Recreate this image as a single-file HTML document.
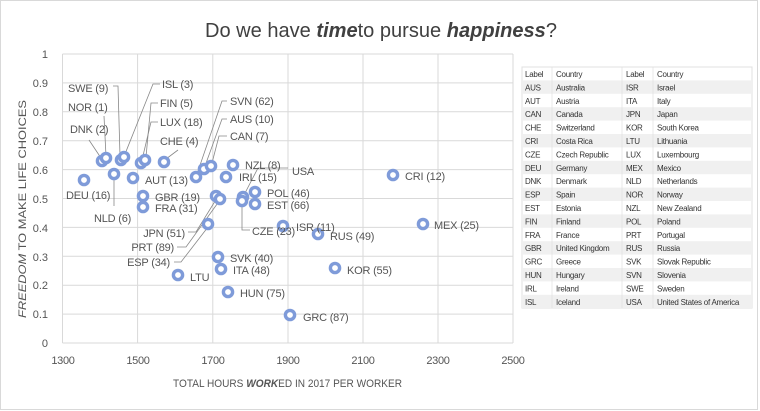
<!DOCTYPE html>
<html><head><meta charset="utf-8"><style>
html,body{margin:0;padding:0;background:#fff;}
svg{display:block;font-family:"Liberation Sans",sans-serif;}
</style></head><body>
<svg width="760" height="411" viewBox="0 0 760 411" xmlns="http://www.w3.org/2000/svg">
<rect x="0.5" y="0.5" width="757" height="409" fill="#fff" stroke="#d9d9d9"/>
<text x="205" y="37" font-size="20" fill="#404040" textLength="352" lengthAdjust="spacingAndGlyphs">Do we have <tspan font-weight="bold" font-style="italic">time</tspan>to pursue <tspan font-weight="bold" font-style="italic">happiness</tspan>?</text>
<g stroke="#d9d9d9" stroke-width="1">
<line x1="62.5" y1="54" x2="513" y2="54"/><line x1="62.5" y1="82.9" x2="513" y2="82.9"/><line x1="62.5" y1="111.8" x2="513" y2="111.8"/><line x1="62.5" y1="140.7" x2="513" y2="140.7"/><line x1="62.5" y1="169.6" x2="513" y2="169.6"/><line x1="62.5" y1="198.5" x2="513" y2="198.5"/><line x1="62.5" y1="227.4" x2="513" y2="227.4"/><line x1="62.5" y1="256.3" x2="513" y2="256.3"/><line x1="62.5" y1="285.2" x2="513" y2="285.2"/><line x1="62.5" y1="314.1" x2="513" y2="314.1"/><line x1="62.5" y1="343" x2="513" y2="343"/>
<line x1="62.5" y1="54" x2="62.5" y2="343"/><line x1="137.6" y1="54" x2="137.6" y2="343"/><line x1="212.8" y1="54" x2="212.8" y2="343"/><line x1="288" y1="54" x2="288" y2="343"/><line x1="363" y1="54" x2="363" y2="343"/><line x1="438" y1="54" x2="438" y2="343"/><line x1="513" y1="54" x2="513" y2="343"/>
</g>
<g font-size="11" fill="#555" text-anchor="end">
<text x="48" y="58">1</text><text x="48" y="87">0.9</text><text x="48" y="116">0.8</text><text x="48" y="145">0.7</text><text x="48" y="174">0.6</text><text x="48" y="203">0.5</text><text x="48" y="232">0.4</text><text x="48" y="261">0.3</text><text x="48" y="289">0.2</text><text x="48" y="318">0.1</text><text x="48" y="347">0</text>
</g>
<g font-size="11" fill="#555" text-anchor="middle" letter-spacing="-0.3">
<text x="63" y="364">1300</text><text x="138" y="364">1500</text><text x="213" y="364">1700</text><text x="288" y="364">1900</text><text x="363" y="364">2100</text><text x="438" y="364">2300</text><text x="513" y="364">2500</text>
</g>
<text x="173" y="387" font-size="11" fill="#555" textLength="229" lengthAdjust="spacingAndGlyphs">TOTAL HOURS <tspan font-weight="bold" font-style="italic">WORK</tspan>ED IN 2017 PER WORKER</text>
<text transform="translate(26,318) rotate(-90)" font-size="11" fill="#555" textLength="218" lengthAdjust="spacingAndGlyphs"><tspan font-style="italic">FREEDOM</tspan> TO MAKE LIFE CHOICES</text>
<g stroke="#888" stroke-width="0.8" fill="none">
<polyline points="113,86 118,86 120,156"/>
<polyline points="104,116 106,156"/>
<polyline points="89,140 101,158"/>
<polyline points="160,84 153,84 125,154"/>
<polyline points="158,103 151,103 146,157"/>
<polyline points="158,122 151,122 142,160"/>
<polyline points="178,150 166,159"/>
<polyline points="227,101 222,101 197,174"/>
<polyline points="227,119 222,119 205,166"/>
<polyline points="227,136 219,136 212,163"/>
<polyline points="288,168 258,168 244,195"/>
<polyline points="114,178 114,206"/>
<polyline points="188,232 196,232 217,198"/>
<polyline points="177,247 186,247 220,200"/>
<polyline points="174,262 181,262 208,227"/>
<polyline points="242,203 242,230 250,230"/>
</g>
<g fill="#fff" stroke="#7f9bd9" stroke-width="3.4">
<circle cx="84" cy="180" r="4.6"/><circle cx="102" cy="161" r="4.6"/><circle cx="106" cy="158" r="4.6"/><circle cx="121" cy="160" r="4.6"/><circle cx="124" cy="157" r="4.6"/><circle cx="114" cy="174" r="4.6"/><circle cx="141" cy="163" r="4.6"/><circle cx="145" cy="160" r="4.6"/><circle cx="164" cy="162" r="4.6"/><circle cx="133" cy="178" r="4.6"/><circle cx="143" cy="196" r="4.6"/><circle cx="143" cy="207" r="4.6"/><circle cx="216" cy="196" r="4.6"/><circle cx="220" cy="199" r="4.6"/><circle cx="208" cy="224" r="4.6"/><circle cx="196" cy="177" r="4.6"/><circle cx="204" cy="169" r="4.6"/><circle cx="211" cy="166" r="4.6"/><circle cx="233" cy="165" r="4.6"/><circle cx="226" cy="177" r="4.6"/><circle cx="243" cy="197" r="4.6"/><circle cx="242" cy="201" r="4.6"/><circle cx="255" cy="192" r="4.6"/><circle cx="255" cy="204" r="4.6"/><circle cx="218" cy="257" r="4.6"/><circle cx="221" cy="269" r="4.6"/><circle cx="178" cy="275" r="4.6"/><circle cx="228" cy="292" r="4.6"/><circle cx="290" cy="315" r="4.6"/><circle cx="283" cy="226" r="4.6"/><circle cx="318" cy="234" r="4.6"/><circle cx="335" cy="268" r="4.6"/><circle cx="423" cy="224" r="4.6"/><circle cx="393" cy="175" r="4.6"/>
</g>
<g font-size="11" fill="#555" letter-spacing="-0.2">
<text x="68" y="92">SWE (9)</text><text x="68" y="111">NOR (1)</text><text x="70" y="133">DNK (2)</text>
<text x="162" y="88">ISL (3)</text><text x="160" y="107">FIN (5)</text><text x="160" y="126">LUX (18)</text><text x="160" y="145">CHE (4)</text>
<text x="230" y="105">SVN (62)</text><text x="230" y="123">AUS (10)</text><text x="230" y="140">CAN (7)</text>
<text x="145" y="184">AUT (13)</text><text x="245" y="169">NZL (8)</text><text x="239" y="181">IRL (15)</text><text x="292" y="175">USA</text>
<text x="267" y="197">POL (46)</text><text x="267" y="209">EST (66)</text><text x="155" y="201">GBR (19)</text><text x="155" y="212">FRA (31)</text>
<text x="66" y="199">DEU (16)</text><text x="94" y="222">NLD (6)</text>
<text x="185" y="237" text-anchor="end">JPN (51)</text><text x="174" y="251" text-anchor="end">PRT (89)</text><text x="170" y="266" text-anchor="end">ESP (34)</text>
<text x="190" y="281">LTU</text><text x="230" y="262">SVK (40)</text><text x="233" y="274">ITA (48)</text><text x="240" y="297">HUN (75)</text><text x="303" y="321">GRC (87)</text>
<text x="252" y="235">CZE (23)</text><text x="296" y="231">ISR (11)</text><text x="330" y="240">RUS (49)</text><text x="347" y="274">KOR (55)</text><text x="434" y="229">MEX (25)</text><text x="405" y="180">CRI (12)</text>
</g>
<g font-size="8" fill="#333" letter-spacing="-0.25">
<rect x="522" y="67" width="230" height="241" fill="#fff" stroke="#e0e0e0"/>
<g fill="#f0f0f0">
<rect x="522" y="80.4" width="230" height="13.4"/><rect x="522" y="107.2" width="230" height="13.4"/><rect x="522" y="134" width="230" height="13.4"/><rect x="522" y="160.8" width="230" height="13.4"/><rect x="522" y="187.6" width="230" height="13.4"/><rect x="522" y="214.4" width="230" height="13.4"/><rect x="522" y="241.2" width="230" height="13.4"/><rect x="522" y="268" width="230" height="13.4"/><rect x="522" y="294.8" width="230" height="13.2"/>
</g>
<g stroke="#e0e0e0" stroke-width="0.7">
<line x1="552" y1="67" x2="552" y2="308"/><line x1="622" y1="67" x2="622" y2="308"/><line x1="653" y1="67" x2="653" y2="308"/>
</g>
<text x="525" y="77">Label</text><text x="556" y="77">Country</text><text x="626" y="77">Label</text><text x="657" y="77">Country</text>
<text x="525" y="90.4">AUS</text><text x="556" y="90.4">Australia</text><text x="626" y="90.4">ISR</text><text x="657" y="90.4">Israel</text>
<text x="525" y="103.8">AUT</text><text x="556" y="103.8">Austria</text><text x="626" y="103.8">ITA</text><text x="657" y="103.8">Italy</text>
<text x="525" y="117.2">CAN</text><text x="556" y="117.2">Canada</text><text x="626" y="117.2">JPN</text><text x="657" y="117.2">Japan</text>
<text x="525" y="130.6">CHE</text><text x="556" y="130.6">Switzerland</text><text x="626" y="130.6">KOR</text><text x="657" y="130.6">South Korea</text>
<text x="525" y="144">CRI</text><text x="556" y="144">Costa Rica</text><text x="626" y="144">LTU</text><text x="657" y="144">Lithuania</text>
<text x="525" y="157.4">CZE</text><text x="556" y="157.4">Czech Republic</text><text x="626" y="157.4">LUX</text><text x="657" y="157.4">Luxembourg</text>
<text x="525" y="170.8">DEU</text><text x="556" y="170.8">Germany</text><text x="626" y="170.8">MEX</text><text x="657" y="170.8">Mexico</text>
<text x="525" y="184.2">DNK</text><text x="556" y="184.2">Denmark</text><text x="626" y="184.2">NLD</text><text x="657" y="184.2">Netherlands</text>
<text x="525" y="197.6">ESP</text><text x="556" y="197.6">Spain</text><text x="626" y="197.6">NOR</text><text x="657" y="197.6">Norway</text>
<text x="525" y="211">EST</text><text x="556" y="211">Estonia</text><text x="626" y="211">NZL</text><text x="657" y="211">New Zealand</text>
<text x="525" y="224.4">FIN</text><text x="556" y="224.4">Finland</text><text x="626" y="224.4">POL</text><text x="657" y="224.4">Poland</text>
<text x="525" y="237.8">FRA</text><text x="556" y="237.8">France</text><text x="626" y="237.8">PRT</text><text x="657" y="237.8">Portugal</text>
<text x="525" y="251.2">GBR</text><text x="556" y="251.2">United Kingdom</text><text x="626" y="251.2">RUS</text><text x="657" y="251.2">Russia</text>
<text x="525" y="264.6">GRC</text><text x="556" y="264.6">Greece</text><text x="626" y="264.6">SVK</text><text x="657" y="264.6">Slovak Republic</text>
<text x="525" y="278">HUN</text><text x="556" y="278">Hungary</text><text x="626" y="278">SVN</text><text x="657" y="278">Slovenia</text>
<text x="525" y="291.4">IRL</text><text x="556" y="291.4">Ireland</text><text x="626" y="291.4">SWE</text><text x="657" y="291.4">Sweden</text>
<text x="525" y="304.8">ISL</text><text x="556" y="304.8">Iceland</text><text x="626" y="304.8">USA</text><text x="657" y="304.8">United States of America</text>
</g>
</svg>
</body></html>
